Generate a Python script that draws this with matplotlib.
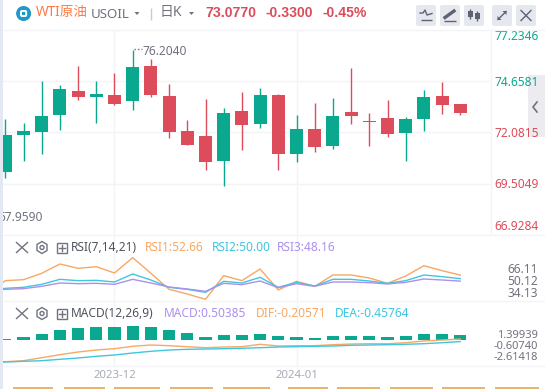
import matplotlib
matplotlib.use('Agg')
import matplotlib.pyplot as plt
from matplotlib.patches import Circle, FancyBboxPatch, Polygon, Rectangle

plt.rcParams['font.family'] = ['Noto Sans', 'Noto Sans CJK SC', 'DejaVu Sans']

#candles
opens = [70.10, 71.95, 72.10, 72.95, 74.16, 73.86, 73.96, 73.66, 75.42, 73.91, 72.15, 71.90, 70.64,
         73.16, 72.50, 73.96, 70.99, 72.25, 71.39, 73.11, 72.65, 72.80, 72.05, 72.75, 73.91, 73.51]
closes = [71.95, 72.15, 72.90, 74.26, 73.86, 74.01, 73.51, 75.37, 73.96, 72.10, 71.44, 70.59, 73.06,
          72.45, 73.96, 70.99, 72.25, 71.34, 72.90, 72.90, 72.62, 72.00, 72.75, 73.86, 73.46, 73.077]
highs = [72.75, 72.55, 74.67, 74.47, 75.42, 74.67, 75.07, 76.204, 75.77, 74.52, 72.70, 73.76, 73.31,
         74.11, 74.31, 74.01, 72.95, 73.56, 73.81, 75.32, 73.06, 73.71, 72.85, 74.21, 74.62, 73.51]
lows = [69.80, 70.64, 70.99, 72.20, 73.71, 72.55, 73.46, 73.21, 73.86, 71.80, 71.44, 70.18, 69.38,
        71.19, 72.30, 70.18, 70.59, 71.09, 71.24, 72.50, 71.39, 71.85, 70.64, 72.15, 73.00, 72.95]

#indicator lines start one bar earlier, that bar is cut off by the left edge
rsi1 = [37.75, 48.5, 49.25, 54, 61, 57.75, 59, 54.25, 65.75, 54, 42, 38.5, 34.5, 52.25,
        48.5, 57.25, 41.5, 48, 44.25, 52.75, 52.75, 50.5, 46.5, 52, 59.75, 56, 52.66]
rsi2 = [41, 42.75, 43.5, 45.75, 49.5, 48.5, 48.75, 47.5, 53.5, 49, 43.5, 42, 39.75, 48,
        46.75, 51, 43.5, 47.25, 44.5, 49.5, 49.5, 48.25, 46.5, 48.5, 52.75, 51.5, 50.0]
rsi3 = [41, 42, 42.5, 44.25, 46.75, 46.25, 46.5, 45.75, 49.5, 46.75, 43.75, 42.25, 40.5, 46.5,
        45.5, 48.25, 43.25, 46.25, 44.25, 47.5, 47.5, 47, 46, 47.25, 49.75, 49, 48.16]

macd_hist = [-0.05, 0.30, 0.60, 1.0, 1.2, 1.3, 1.3, 1.39939, 1.3, 1.0, 0.7, 0.3, 0.5,
             0.5, 0.6, 0.4, 0.3, 0.2, 0.4, 0.4, 0.4, 0.3, 0.4, 0.6, 0.6, 0.50385]
dif = [-2.55, -2.47, -2.37, -2.07, -1.77, -1.5, -1.3, -1.17, -0.93, -0.8, -0.87, -0.97, -1.07, -1.0,
       -0.97, -0.73, -0.9, -0.87, -0.87, -0.77, -0.7, -0.67, -0.67, -0.57, -0.4, -0.3, -0.20571]
dea = [-2.53, -2.5, -2.43, -2.37, -2.23, -2.1, -1.93, -1.8, -1.6, -1.43, -1.3, -1.23, -1.2, -1.17,
       -1.13, -1.07, -1.0, -0.97, -0.93, -0.9, -0.83, -0.8, -0.77, -0.73, -0.67, -0.57, -0.45764]

price_ticks = [77.2346, 74.6581, 72.0815, 69.5049, 66.9284]
date_pos = [6, 16]
date_labels = ['2023-12', '2024-01']

GREEN = '#0AA88E'
RED = '#DC4C5A'
ORANGE = '#F7A864'
CYAN = '#3FC6E0'
PURPLE = '#AC90EC'
GRID = '#F3F4F7'
GRAY = '#70737F'
ICON = '#5F6272'

W, H = 545, 389
xs = list(range(len(opens)))
line_xs = list(range(-1, len(opens)))
xlim = ((2 - 5.3) / 18.2, (490.7 - 5.3) / 18.2)

def panel(top, bottom):
  a = fig.add_axes([2 / W, 1 - bottom / H, 488.7 / W, (bottom - top) / H])
  a.set_xlim(xlim)
  a.patch.set_alpha(0)
  for s in a.spines.values():
    s.set_visible(False)
  a.set_xticks(date_pos)
  a.set_xticklabels([])
  a.tick_params(length=0)
  a.grid(axis='x', color=GRID, lw=1)
  a.set_axisbelow(True)
  return a

fig = plt.figure(figsize=(W / 100, H / 100), dpi=100, facecolor='white')

#handle sits under the price labels
bg = fig.add_axes([0, 0, 1, 1], zorder=-1)
bg.set_xlim(0, W)
bg.set_ylim(H, 0)
bg.axis('off')
bg.add_patch(Rectangle((528, 75), 17, 62, color='#EBEBF0', lw=0))
bg.plot([537, 533, 537], [102, 107, 112], color=GRAY, lw=1.2)

#price panel
ax = panel(30, 235)
ax.set_ylim(price_ticks[-1], price_ticks[0])
ax.set_yticks(price_ticks[1:-1])
ax.set_yticklabels([])
ax.grid(axis='y', color=GRID, lw=1)
for i in xs:
  c = GREEN if closes[i] >= opens[i] else RED
  ax.vlines(i, lows[i], highs[i], color=c, lw=1)
  lo, hi = min(opens[i], closes[i]), max(opens[i], closes[i])
  ax.bar(i, hi - lo, bottom=lo, width=0.71, color=c)

for v in price_ticks:
  c = GREEN if v > closes[-1] else RED
  off = {77.2346: -7, 66.9284: 8.5}.get(v, -1)
  ax.annotate('%.4f' % v, (1, v), xycoords=('axes fraction', 'data'), xytext=(3, off * 0.72),
              textcoords='offset points', color=c, fontsize=8.6, va='center', annotation_clip=False)

ax.plot([7.05, 7.5], [76.28, 76.28], color=GRAY, lw=1, ls=(0, (1, 1.5)))
ax.text(7.55, 76.13, '76.2040', color=GRAY, fontsize=8.6, va='center')
ax.text(2.07, 67.8, '67.9590', color=GRAY, fontsize=8.6, va='center', ha='right', clip_on=True)

#RSI panel
ax2 = panel(235, 301)
ax2.set_ylim(33.25, 82.75)
ax2.set_yticks([])
ax2.plot(line_xs, rsi1, color=ORANGE, lw=1)
ax2.plot(line_xs, rsi2, color=CYAN, lw=1)
ax2.plot(line_xs, rsi3, color=PURPLE, lw=1)

#MACD panel
ax3 = panel(301, 366)
ax3.set_ylim(-2.9, 3.6)
ax3.set_yticks([])
for i in xs:
  c = GREEN if macd_hist[i] > 0 else RED
  ax3.bar(i, max(macd_hist[i], 0.06), bottom=-0.3, width=0.66, color=c)
ax3.plot(line_xs, dif, color=ORANGE, lw=1)
ax3.plot(line_xs, dea, color=CYAN, lw=1)
ax3.set_xticklabels(date_labels, color='#A8ABB8', fontsize=8.2)
ax3.tick_params(axis='x', pad=3)

#chrome drawn in pixel coordinates
ov = fig.add_axes([0, 0, 1, 1], zorder=5)
ov.set_xlim(0, W)
ov.set_ylim(H, 0)
ov.axis('off')
ov.add_patch(Rectangle((0, 0), 2.5, H, color='#E4E8F2', lw=0))
ov.hlines([30, 235, 301, 366], 2.5, W, color=GRID, lw=1)
ov.vlines(490.7, 30, 235, color=GRID, lw=1)

#header
ov.add_patch(Circle((23.6, 13.5), 7.5, color='#2298C8', lw=0))
ov.add_patch(FancyBboxPatch((22, 12), 3.2, 3, boxstyle='round,pad=1', fc='none', ec='white', lw=1.4))
ov.text(36, 12.5, 'WTI原油', color='#FF7A45', fontsize=9.8, va='center')
ov.text(91, 14, 'USOIL', color=GRAY, fontsize=9.6, va='center')
ov.add_patch(Polygon([(134.5, 12), (139.5, 12), (137, 15)], color=GRAY, lw=0))
ov.vlines(150.5, 8, 20, color='#C8CAD2', lw=1)
ov.text(160, 12.5, '日K', color=GRAY, fontsize=10, va='center')
ov.add_patch(Polygon([(189, 12), (194, 12), (191.5, 15)], color=GRAY, lw=0))
for tx, s in [(205, '73.0770'), (265, '-0.3300'), (322.5, '-0.45%')]:
  ov.text(tx, 12.5, s, color=RED, fontsize=10.1, fontweight='bold', family='Liberation Sans', va='center')

for bx in [416, 440, 464, 492, 516]:
  ov.add_patch(FancyBboxPatch((bx + 2, 7), 16, 17, boxstyle='round,pad=2', fc='#E6E8EF', ec='none'))
ov.plot([420, 423, 425, 427, 432], [13, 13, 10, 15, 13.5], color=ICON, lw=1)
ov.hlines(19.5, 421, 432, color=ICON, lw=1)
ov.plot([445, 454], [17.5, 11], color=ICON, lw=2.4)
ov.hlines(20.5, 444, 456, color=ICON, lw=1)
for cx, t, b in [(470, 11, 17), (477, 13, 19)]:
  ov.vlines(cx, t - 2, b + 2, color=ICON, lw=1)
  ov.add_patch(Rectangle((cx - 2.5, t), 5, b - t, color=ICON, lw=0))
ov.plot([498, 506], [19.5, 11.5], color=ICON, lw=1)
ov.add_patch(Polygon([(506.5, 11), (502.5, 11), (506.5, 15)], color=ICON, lw=0))
ov.add_patch(Polygon([(497.5, 20), (501.5, 20), (497.5, 16)], color=ICON, lw=0))
ov.plot([521, 531], [10.5, 20.5], color=ICON, lw=1)
ov.plot([521, 531], [20.5, 10.5], color=ICON, lw=1)

#indicator rows
for y, lab, lx in [(247.5, 'RSI(7,14,21)', 70.5), (313.5, 'MACD(12,26,9)', 71)]:
  ov.plot([16.5, 27.5], [y - 5, y + 5], color=GRAY, lw=1)
  ov.plot([16.5, 27.5], [y + 5, y - 5], color=GRAY, lw=1)
  ov.add_patch(Polygon([(42, y - 6), (47, y - 3), (47, y + 3), (42, y + 6), (37, y + 3), (37, y - 3)],
                       fc='none', ec=GRAY, lw=1))
  ov.add_patch(Circle((42, y), 2, fc='none', ec=GRAY, lw=1))
  ov.add_patch(Rectangle((56.5, y - 5), 10, 10, fc='none', ec=GRAY, lw=1))
  ov.plot([58.5, 64.5], [y, y], color=GRAY, lw=1)
  ov.plot([61.5, 61.5], [y - 3, y + 3], color=GRAY, lw=1)
  ov.text(lx, y, lab, color='#50535F', fontsize=8.6, va='center')

ov.text(145, 247.5, 'RSI1:52.66', color=ORANGE, fontsize=8.6, va='center')
ov.text(212, 247.5, 'RSI2:50.00', color=CYAN, fontsize=8.6, va='center')
ov.text(277, 247.5, 'RSI3:48.16', color=PURPLE, fontsize=8.6, va='center')
ov.text(164, 313.5, 'MACD:0.50385', color=PURPLE, fontsize=8.6, va='center')
ov.text(256, 313.5, 'DIF:-0.20571', color=ORANGE, fontsize=8.6, va='center')
ov.text(335, 313.5, 'DEA:-0.45764', color=CYAN, fontsize=8.6, va='center')

for y, s in [(269.5, '66.11'), (281.5, '50.12'), (293.5, '34.13')]:
  ov.text(538, y, s, color=GRAY, fontsize=8.6, va='center', ha='right')
for y, s in [(335.5, '1.39939'), (346.7, '-0.60740'), (358, '-2.61418')]:
  ov.text(538, y, s, color=GRAY, fontsize=8, va='center', ha='right')

#strip of the next widget showing at the bottom edge
for a, b in [(13, 53), (64, 105), (114, 160), (170, 213), (223, 270), (288, 328), (337, 380), (390, 433), (442, 485), (495, 539)]:
  ov.hlines(388.3, a, b, color='#E0A84E', lw=1.2)

fig.savefig('out.png', dpi=100)
